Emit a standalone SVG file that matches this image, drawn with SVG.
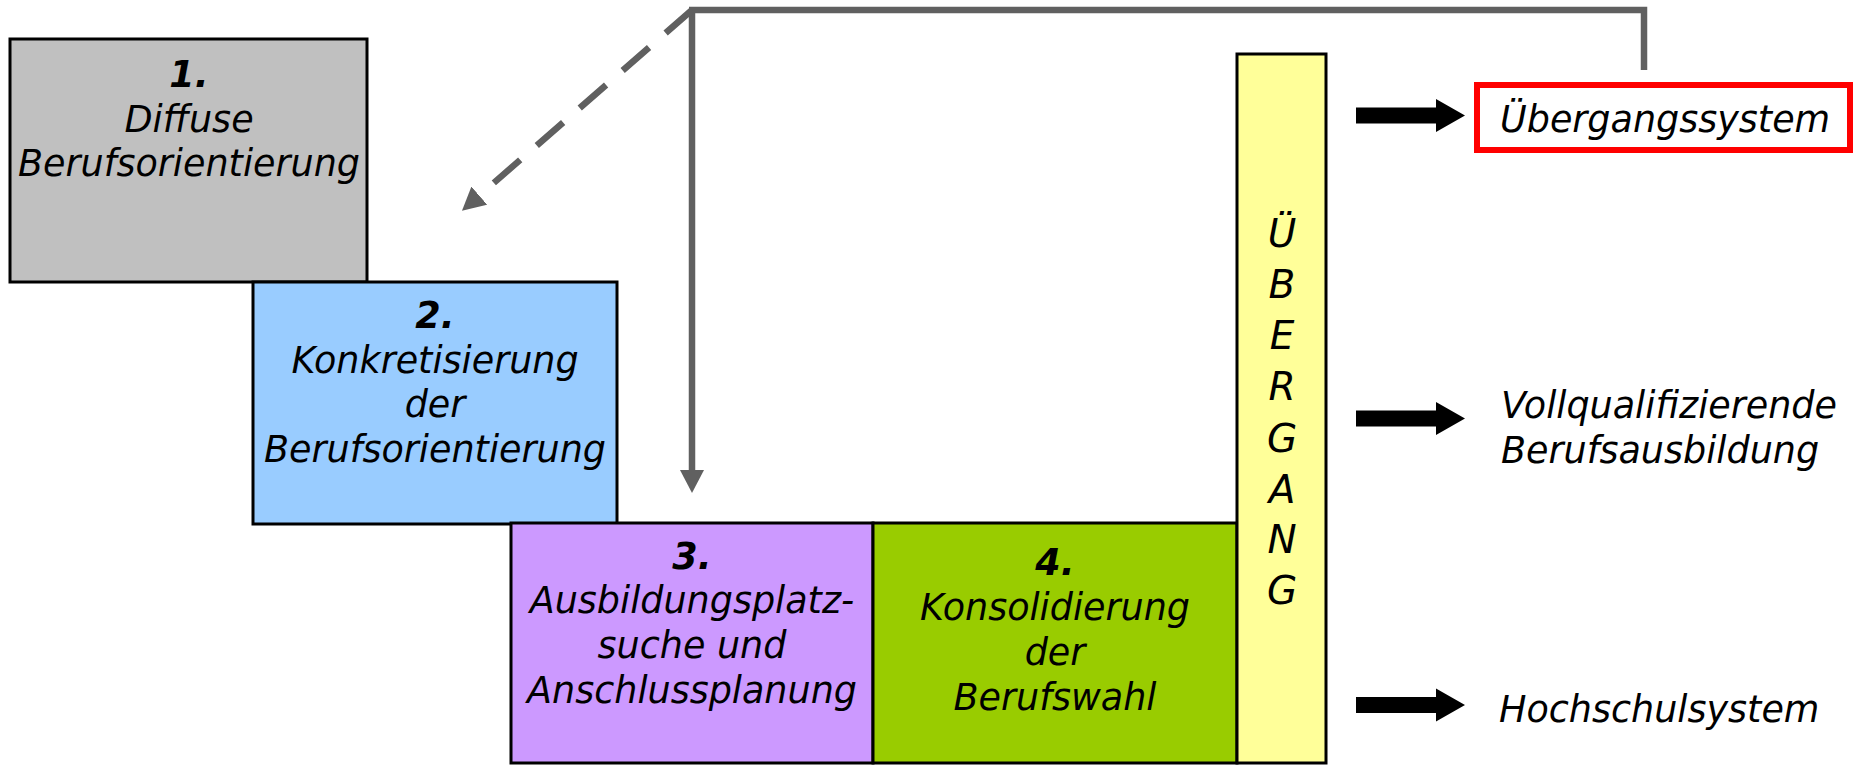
<svg xmlns="http://www.w3.org/2000/svg" width="1854" height="765" viewBox="0 0 1854 765">
<defs>
<style>
.box{stroke:#000;stroke-width:3}
.t{font-family:"DejaVu Sans","Verdana",sans-serif;font-style:italic;font-size:36.5px;fill:#000;text-anchor:middle}
.n{font-weight:bold}
.l{text-anchor:start}
.v{font-size:39px}
.conn{fill:none;stroke:#606060;stroke-width:6.5}
</style>
<marker id="ga" viewBox="0 0 23 24" markerWidth="23" markerHeight="24" refX="0" refY="12" orient="auto" markerUnits="userSpaceOnUse">
<path d="M0,0 L23,12 L0,24 Z" fill="#606060"/>
</marker>
<path id="blk" d="M-109,-8 H-29 V-16.5 L0,0 L-29,16.5 V8 H-109 Z" fill="#000"/>
</defs>
<rect width="1854" height="765" fill="#fff"/>

<g id="node1">
<rect class="box" x="10" y="39" width="357" height="243" fill="#C0C0C0"/>
<text class="t n" x="189" y="87">1.</text>
<text class="t" x="189" y="132">Diffuse</text>
<text class="t" x="189" y="176">Berufsorientierung</text>
</g>

<g id="node2">
<rect class="box" x="253" y="282" width="364" height="242" fill="#99CCFF"/>
<text class="t n" x="435" y="328">2.</text>
<text class="t" x="435" y="373">Konkretisierung</text>
<text class="t" x="435" y="417">der</text>
<text class="t" x="435" y="462">Berufsorientierung</text>
</g>

<g id="node3">
<rect class="box" x="511" y="523" width="362" height="240" fill="#CC99FF"/>
<text class="t n" x="692" y="569">3.</text>
<text class="t" x="692" y="613">Ausbildungsplatz-</text>
<text class="t" x="692" y="658">suche und</text>
<text class="t" x="692" y="703">Anschlussplanung</text>
</g>

<g id="node4">
<rect class="box" x="873" y="523" width="364" height="240" fill="#99CC00"/>
<text class="t n" x="1055" y="575">4.</text>
<text class="t" x="1055" y="620">Konsolidierung</text>
<text class="t" x="1055" y="665">der</text>
<text class="t" x="1055" y="710">Berufswahl</text>
</g>

<g id="uebergang">
<rect class="box" x="1237" y="54" width="89" height="709" fill="#FFFF99"/>
<text class="t v" x="1282" y="247">Ü</text>
<text class="t v" x="1282" y="298">B</text>
<text class="t v" x="1282" y="349">E</text>
<text class="t v" x="1282" y="400">R</text>
<text class="t v" x="1282" y="452">G</text>
<text class="t v" x="1282" y="503">A</text>
<text class="t v" x="1282" y="553">N</text>
<text class="t v" x="1282" y="604">G</text>
</g>

<g id="uebergangssystem">
<rect x="1477" y="85" width="373" height="65" fill="#fff" stroke="#FF0000" stroke-width="6"/>
<text class="t l" x="1500" y="132">Übergangssystem</text>
</g>

<g id="vollqualifizierende">
<text class="t l" x="1501" y="418">Vollqualifizierende</text>
<text class="t l" x="1501" y="463">Berufsausbildung</text>
</g>

<g id="hochschulsystem">
<text class="t l" x="1499" y="722">Hochschulsystem</text>
</g>

<g id="connectors">
<path class="conn" d="M689,10 H1644 V70"/>
<path class="conn" d="M692,10 V470" marker-end="url(#ga)"/>
<path class="conn" d="M692,10 L479.3,195.6" stroke-width="7" stroke-dasharray="35 22" marker-end="url(#ga)"/>
<use href="#blk" x="1465" y="115.5"/>
<use href="#blk" x="1465" y="418.5"/>
<use href="#blk" x="1465" y="705"/>
</g>
</svg>
